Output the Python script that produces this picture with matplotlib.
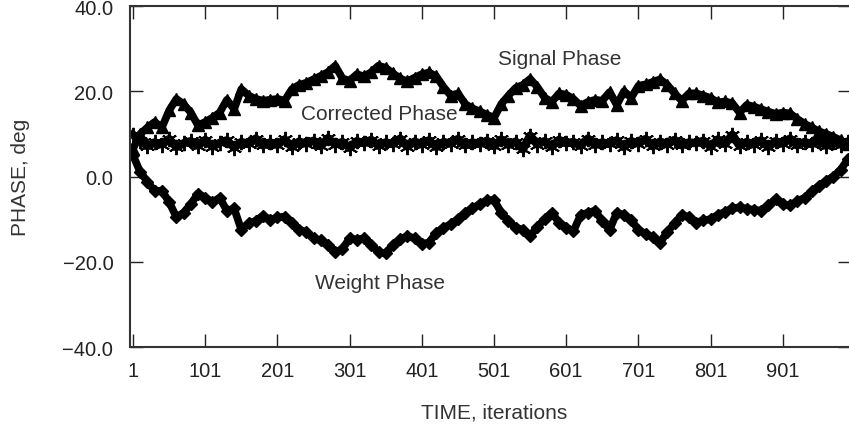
import matplotlib.pyplot as plt

plt.rcParams['font.family'] = ['Liberation Sans', 'DejaVu Sans']

# iteration index of each read-off sample (every 10 iterations)
iterations = list(range(1, 1000, 10))

signal_phase = [
    6.5, 10.0, 11.5, 12.8, 11.5, 15.5, 18.2, 17.0, 15.0, 12.0,
    12.8, 13.8, 15.0, 18.0, 15.8, 20.5, 19.0, 18.2, 17.8, 18.0,
    18.2, 17.8, 20.5, 21.5, 22.0, 22.8, 23.6, 24.5, 26.0, 23.0,
    22.5, 24.0, 23.5, 24.5, 26.0, 25.5, 24.2, 23.0, 22.3, 23.2,
    24.0, 24.4, 23.5, 21.0, 19.0, 19.5, 17.0, 16.0, 15.3, 14.5,
    13.8, 17.0, 19.0, 20.8, 21.5, 22.9, 21.0, 18.5, 17.5, 19.5,
    19.2, 18.2, 16.6, 17.5, 18.0, 17.8, 19.8, 16.8, 20.0, 18.5,
    21.3, 21.6, 22.2, 22.8, 21.5, 19.5, 17.8, 19.5, 19.5, 19.0,
    18.4, 17.4, 17.6, 17.2, 15.0, 16.8, 16.4, 15.8, 15.2, 14.7,
    15.0, 14.8, 13.5, 12.4, 11.5, 10.6, 10.0, 9.3, 8.5, 7.6,
]

corrected_phase = [
    9.8, 8.4, 7.1, 8.0, 7.5, 8.8, 6.9, 7.8, 8.3, 7.2,
    8.6, 7.0, 7.9, 8.5, 6.8, 8.1, 7.6, 8.9, 7.3, 8.0,
    7.4, 8.7, 6.9, 8.2, 7.7, 8.4, 7.1, 9.0, 7.5, 8.1,
    6.7, 8.3, 7.8, 8.6, 7.2, 8.0, 7.6, 8.9, 7.0, 8.2,
    7.5, 8.5, 6.9, 8.1, 7.7, 8.8, 7.3, 8.0, 7.6, 8.4,
    7.1, 8.7, 7.4, 8.2, 6.4, 9.6, 7.5, 8.3, 7.0, 8.6,
    7.8, 8.1, 7.2, 8.9, 7.4, 8.0, 7.6, 8.5, 6.9, 8.3,
    7.7, 8.8, 7.1, 8.2, 7.5, 8.6, 7.3, 8.0, 7.8, 8.4,
    7.0, 8.7, 7.6, 9.8, 7.2, 8.1, 7.5, 8.5, 6.9, 8.3,
    7.7, 8.9, 7.3, 8.1, 7.6, 8.4, 7.2, 8.0, 7.5, 8.2,
]

weight_phase = [
    5.0, 1.0, -1.2, -3.5, -3.3, -6.0, -9.5, -8.5, -6.5, -4.0,
    -5.0, -6.0, -5.0, -8.0, -7.5, -12.5, -11.0, -10.4, -9.2, -10.2,
    -9.6, -9.4, -11.0, -12.5, -13.0, -14.5, -15.0, -16.0, -17.8, -17.0,
    -14.5, -14.8, -14.5, -16.0, -17.8, -18.0, -16.0, -14.7, -14.0, -14.5,
    -15.8, -15.5, -13.2, -12.0, -11.2, -10.0, -8.5, -7.5, -6.5, -5.6,
    -5.5, -8.5, -10.5, -12.0, -12.5, -14.0, -11.8, -10.0, -8.5, -10.8,
    -12.0, -12.8, -9.0, -8.5, -8.0, -10.5, -12.5, -8.5, -9.0, -10.2,
    -12.5, -13.5, -14.3, -15.5, -13.0, -11.0, -9.0, -9.5, -10.8, -10.3,
    -10.0, -9.0, -8.3, -7.5, -7.2, -7.6, -7.8, -8.0, -6.8, -5.3,
    -6.5, -6.8, -5.8, -5.0, -3.5, -2.2, -1.0, 0.0, 1.6, 4.0,
]

x_ticks = [1, 101, 201, 301, 401, 501, 601, 701, 801, 901]
y_ticks = [-40, -20, 0, 20, 40]
y_tick_labels = ['\u221240.0', '\u221220.0', '0.0', '20.0', '40.0']

W, H = 849, 431
fig = plt.figure(figsize=(W / 100, H / 100), dpi=100)
ax = fig.add_axes([130 / W, 1 - 348 / H, (851 - 130) / W, 341 / H])

ax.plot(iterations, weight_phase, color='black', lw=5.5, marker='D', ms=6.5,
        mfc='black', mec='black', solid_joinstyle='round')
ax.plot(iterations, signal_phase, color='black', lw=5.5, marker='^', ms=8.5,
        mfc='black', mec='black', solid_joinstyle='round')
ax.plot(iterations, corrected_phase, color='black', lw=6, marker=(6, 2, 0), ms=11, mew=1.4,
        solid_joinstyle='round')

ax.set_xlim(-3.2, 995.4)
ax.set_ylim(-40, 40)
ax.set_xticks(x_ticks)
ax.set_xticklabels([str(t) for t in x_ticks])
ax.set_yticks(y_ticks)
ax.set_yticklabels(y_tick_labels)
ax.tick_params(axis='both', direction='in', length=9.5, width=1, top=True, right=True,
               labelsize=14.5, colors='#222222')
ax.tick_params(axis='x', pad=10)
ax.tick_params(axis='y', pad=12)
for s in ax.spines.values():
    s.set_linewidth(1.5)
    s.set_color('#333333')

txt = dict(fontsize=15, color='#333333', ha='center', va='center')
ax.text(592, 27.6, 'Signal Phase', **txt)
ax.text(342, 14.7, 'Corrected Phase', **txt)
ax.text(343, -24.8, 'Weight Phase', **txt)

fig.text(21 / W, 1 - 177 / H, 'PHASE, deg', rotation=90, **txt)
fig.text(494 / W, 1 - 413 / H, 'TIME, iterations', **txt)

fig.savefig('out.png', dpi=100)
